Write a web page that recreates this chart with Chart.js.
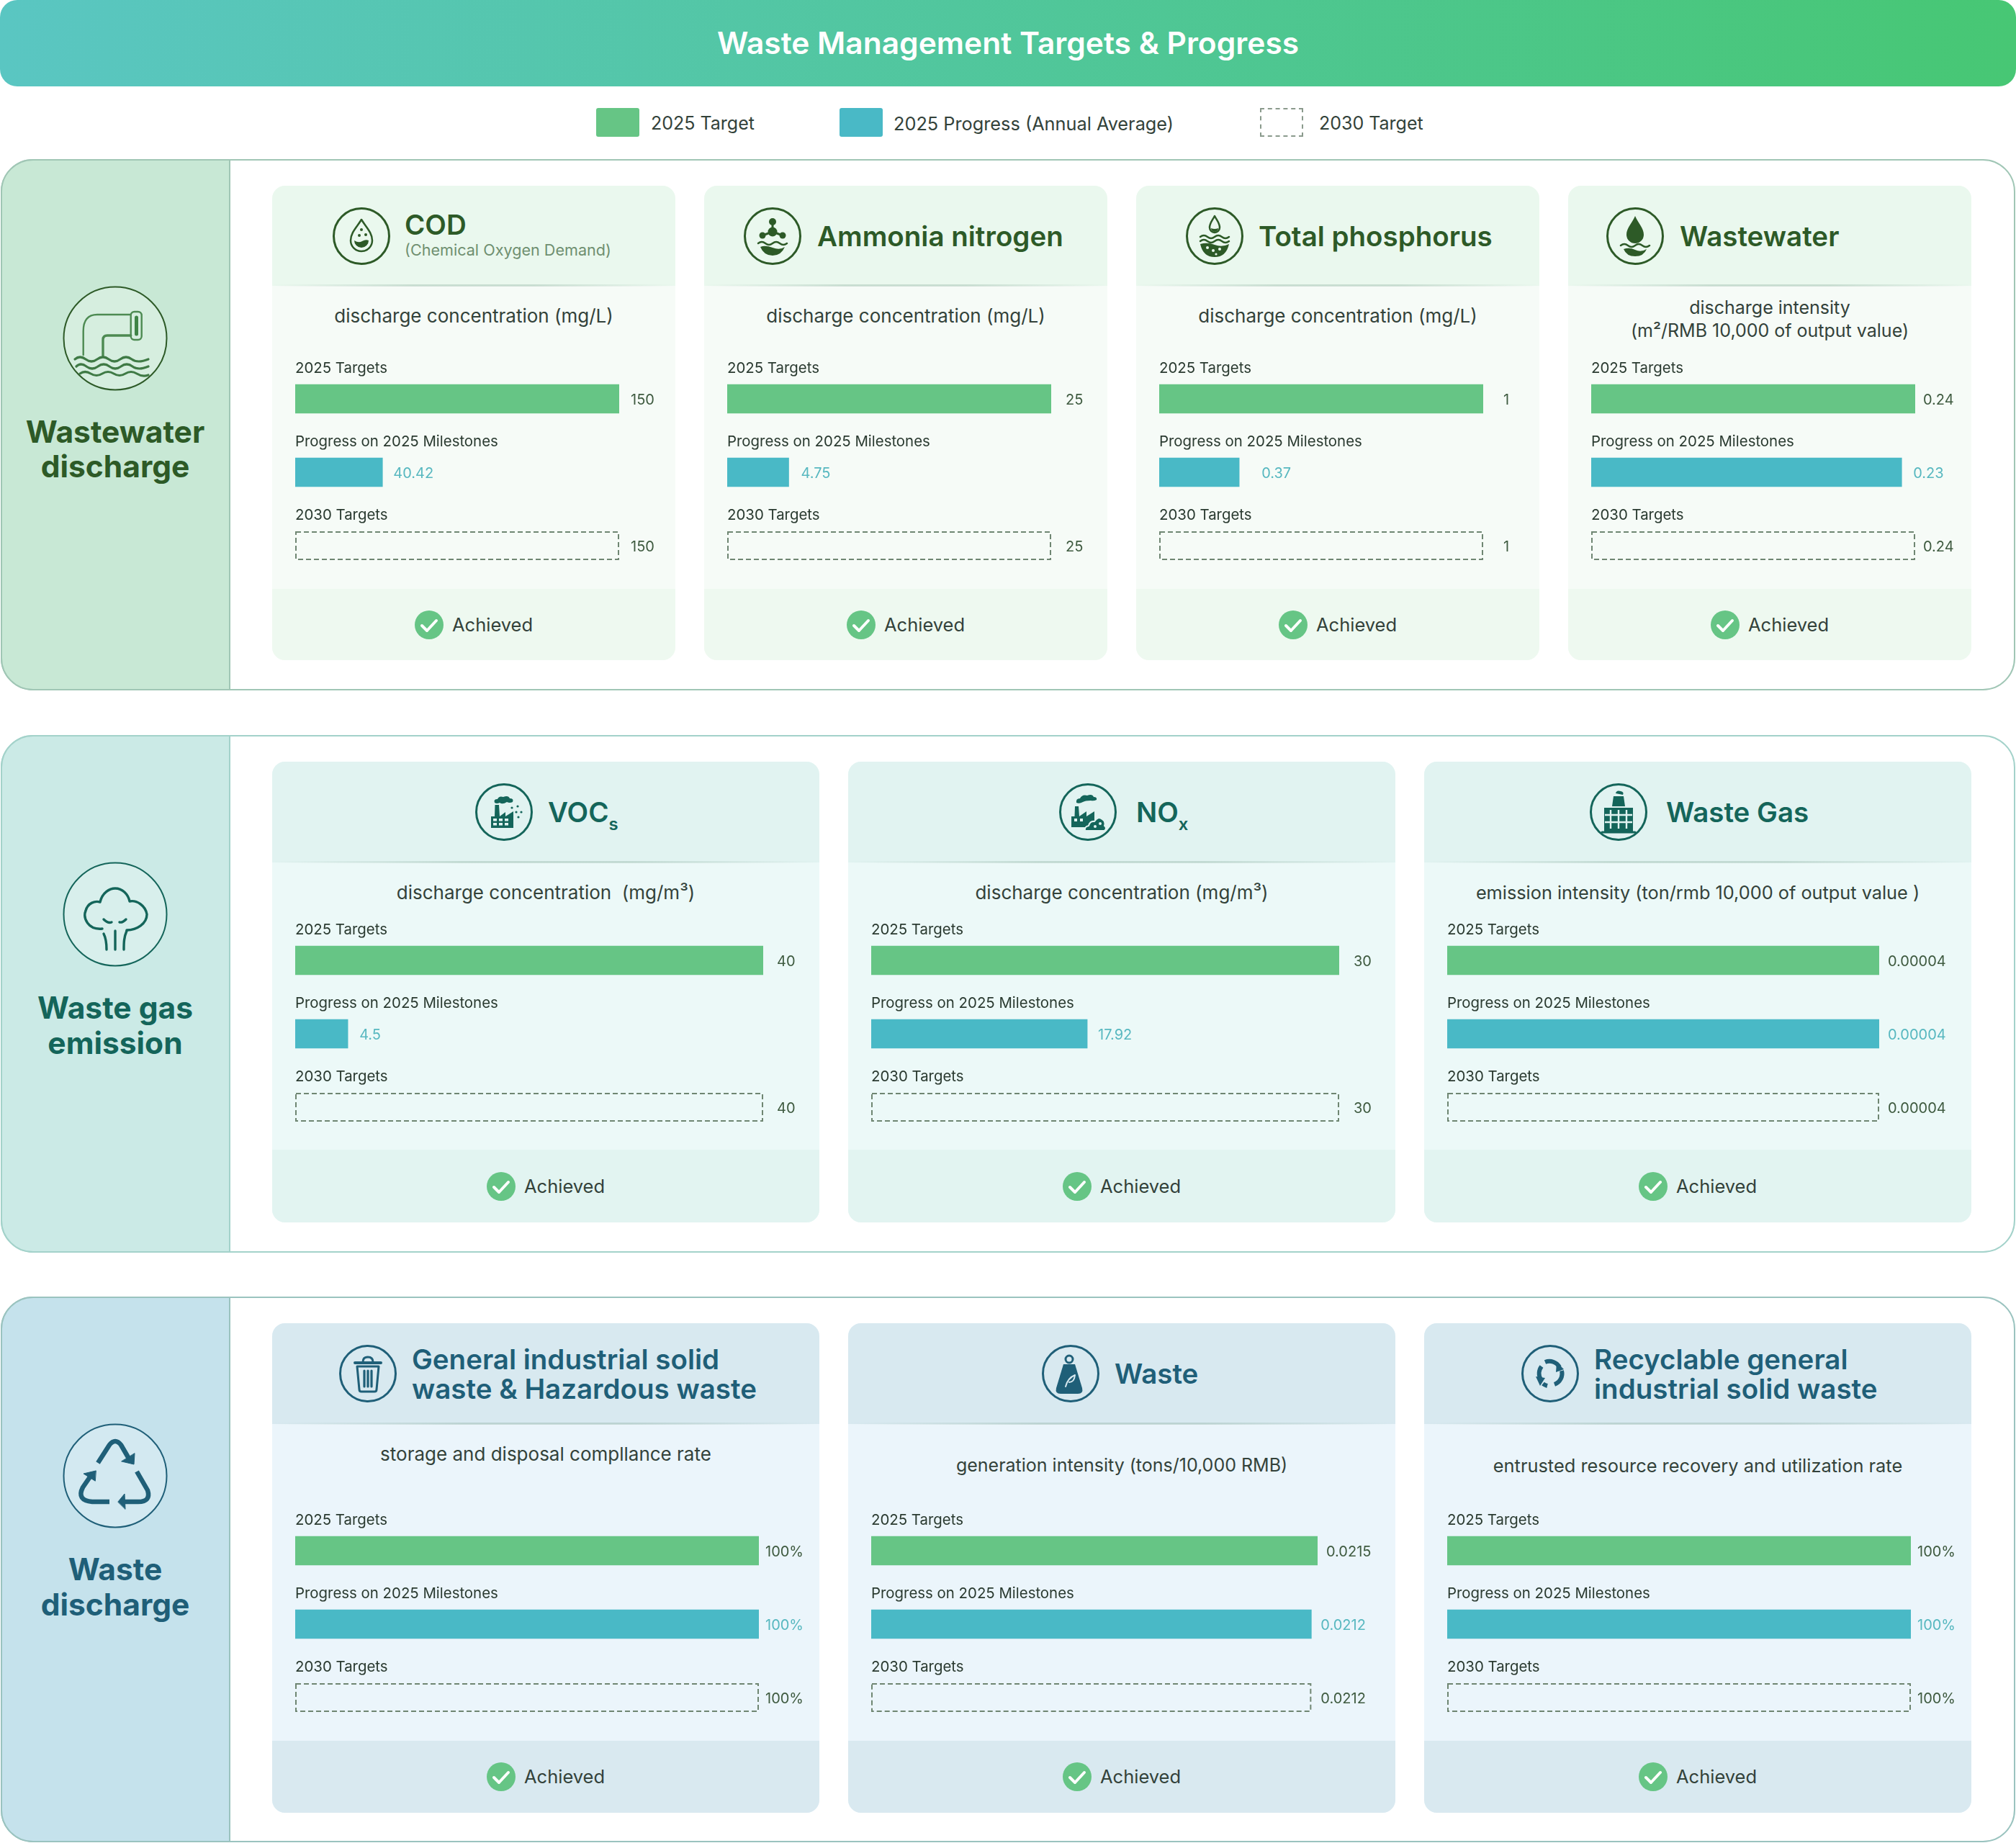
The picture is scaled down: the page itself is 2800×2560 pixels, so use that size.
<!DOCTYPE html>
<html>
<head>
<meta charset="utf-8">
<title>Waste Management Targets & Progress</title>
<script src="https://cdn.jsdelivr.net/npm/chart.js@4"></script>
<style>
  html, body { margin: 0; padding: 0; background: #fff; }
  #page { position: relative; width: 2800px; height: 2560px; overflow: hidden; font-family: Inter, sans-serif; }
  #page div, #page svg, #page canvas { position: absolute; box-sizing: border-box; }
  .t { white-space: nowrap; line-height: 1.1; }
  sub { font-size: 0.62em; line-height: 0; vertical-align: -0.48em; }
</style>
</head>
<body>
<div id="page"></div>
<script>
// chart data, one entry per metric card
const categories = ['2025 Targets', 'Progress on 2025 Milestones', '2030 Targets'];
const target2025 = [150, 25, 1, 0.24, 40, 30, 0.00004, 100, 0.0215, 100];
const progress2025 = [40.42, 4.75, 0.37, 0.23, 4.5, 17.92, 0.00004, 100, 0.0212, 100];
const target2030 = [150, 25, 1, 0.24, 40, 30, 0.00004, 100, 0.0212, 100];
// the picture draws two progress bars shorter than their printed value, so the drawn length is read separately
const progressDrawn = [40.42, 4.75, 0.247, 0.23, 4.5, 13.85, 0.00004, 100, 0.0212, 100];
const valueSuffix = ['', '', '', '', '', '', '', '%', '', '%'];

const metricUnits = [
  ['discharge concentration (mg/L)'],
  ['discharge concentration (mg/L)'],
  ['discharge concentration (mg/L)'],
  ['discharge intensity', '(m²/RMB 10,000 of output value)'],
  ['discharge concentration&nbsp; (mg/m³)'],
  ['discharge concentration (mg/m³)'],
  ['emission intensity (ton/rmb 10,000 of output value )'],
  ['storage and disposal compllance rate'],
  ['generation intensity (tons/10,000 RMB)'],
  ['entrusted resource recovery and utilization rate']
];
const metricTitles = [
  ['COD'],
  ['Ammonia nitrogen'],
  ['Total phosphorus'],
  ['Wastewater'],
  ['VOC<sub>s</sub>'],
  ['NO<sub>x</sub>'],
  ['Waste Gas'],
  ['General industrial solid', 'waste & Hazardous waste'],
  ['Waste'],
  ['Recyclable general', 'industrial solid waste']
];
const legendLabels = ['2025 Target', '2025 Progress (Annual Average)', '2030 Target'];
const sectionNames = [['Wastewater', 'discharge'], ['Waste gas', 'emission'], ['Waste', 'discharge']];

// layout
const sections = [
  { top: 221, bottom: 959, cardTop: 258, headBottom: 397, footTop: 818, cardBottom: 917, rows: 554, unitY: 439,
    iconY: 380, nameY: [600, 648], panel: '#c8e8d5', line: '#a0c6b5', ink: '#2d5a27', head: '#eaf8ee', body: '#f6fbf7', foot: '#eef9f0' },
  { top: 1021, bottom: 1740, cardTop: 1058, headBottom: 1198, footTop: 1597, cardBottom: 1698, rows: 1334, unitY: 1240,
    iconY: 1180, nameY: [1400, 1449], panel: '#cbeae6', line: '#a3d2ca', ink: '#14655a', head: '#e1f3f1', body: '#ecf9f8', foot: '#e2f4f1' },
  { top: 1801, bottom: 2559, cardTop: 1838, headBottom: 1978, footTop: 2418, cardBottom: 2518, rows: 2154, unitY: 2036,
    iconY: 1960, nameY: [2180, 2229], panel: '#c5e2ec', line: '#9ac3bf', ink: '#1f5f78', head: '#d8e9f0', body: '#ebf5fb', foot: '#d9e9f0' }
];
const cards = [
  { s: 0, x: 378,  w: 560, barX: 410,  barW: 450, iconX: 502,  titleX: 562,  unitSize: 26,   gaps: [16, 15, 16] },
  { s: 0, x: 978,  w: 560, barX: 1010, barW: 450, iconX: 1073, titleX: 1135, unitSize: 26,   gaps: [20, 17, 20] },
  { s: 0, x: 1578, w: 560, barX: 1610, barW: 450, iconX: 1687, titleX: 1748, unitSize: 26,   gaps: [28, 31, 28] },
  { s: 0, x: 2178, w: 560, barX: 2210, barW: 450, iconX: 2271, titleX: 2333, unitSize: 25,   gaps: [11, 16, 11] },
  { s: 1, x: 378,  w: 760, barX: 410,  barW: 650, iconX: 700,  titleX: 761,  unitSize: 26,   gaps: [19, 16, 19] },
  { s: 1, x: 1178, w: 760, barX: 1210, barW: 650, iconX: 1511, titleX: 1578, unitSize: 26,   gaps: [20, 15, 20] },
  { s: 1, x: 1978, w: 760, barX: 2010, barW: 600, iconX: 2248, titleX: 2314, unitSize: 25.3, gaps: [12, 12, 12] },
  { s: 2, x: 378,  w: 760, barX: 410,  barW: 644, iconX: 511,  titleX: 572,  unitSize: 26,   gaps: [9, 9, 9], unitY: 2020 },
  { s: 2, x: 1178, w: 760, barX: 1210, barW: 620, iconX: 1487, titleX: 1548, unitSize: 25,   gaps: [12, 13, 13] },
  { s: 2, x: 1978, w: 760, barX: 2010, barW: 644, iconX: 2153, titleX: 2214, unitSize: 25.4, gaps: [9, 9, 9] }
];

const GREEN = '#66c585';
const BLUE = '#49b9c6';

const page = document.getElementById('page');

function box(x, y, w, h, style, parent) {
  const d = document.createElement('div');
  d.style.cssText = `left:${x}px;top:${y}px;width:${w}px;height:${h}px;${style || ''}`;
  (parent || page).appendChild(d);
  return d;
}

function text(x, y, html, style, align) {
  const d = document.createElement('div');
  d.className = 't';
  const shift = align === 'center' ? 'translate(-50%,-50%)' : 'translateY(-50%)';
  d.style.cssText = `left:${x}px;top:${y}px;transform:${shift};${style}`;
  d.innerHTML = html;
  page.appendChild(d);
  return d;
}

function svg(x, y, w, h, body, color, viewBox) {
  const holder = document.createElement('div');
  holder.style.cssText = `left:${x}px;top:${y}px;width:${w}px;height:${h}px;color:${color}`;
  holder.innerHTML = `<svg style="left:0;top:0" width="${w}" height="${h}" viewBox="${viewBox || `0 0 ${w} ${h}`}" fill="none" stroke="currentColor" stroke-linecap="round" stroke-linejoin="round">${body}</svg>`;
  page.appendChild(holder);
}

// side panel icons, drawn on a 240x180 tile with the ring in the middle
const ring = '<circle cx="100" cy="90" r="71.5" fill="rgba(255,255,255,0.25)" stroke-width="2"/>';
const sideIcons = [
  ring + `<g stroke-width="2.4" stroke="#4d8a52"><path d="M55.7 113V80Q55.7 57 75 57H121.7"/><path d="M83 115V92Q83 86 89 86H121.7" stroke-width="3.4"/><rect x="121.7" y="53" width="15" height="39" rx="5"/></g>
   <path d="M129.5 61V84" stroke-width="5" stroke="#3f8446"/><g stroke-width="3.2" stroke="#3f7a45"><path d="M44 119Q51 113 59 119T75 119T91 119T107 119T123 119T146 119"/><path d="M46 129Q52 123 60 129T76 129T92 129T108 129T124 129T146 129"/><path d="M51 139Q58 134 66 139T82 139T98 139T114 139T130 139T146 141"/></g>`,
  ring + `<g stroke-width="3.4"><path d="M82 110C62 112 55 95 59 85C62 74 72 71 79 73C82 60 92 54 100 54C110 54 118 62 120 72C130 70 142 78 144 90C144 103 130 112 116 112"/><path d="M84 117C88 125 88 132 88 139M100 113V139M116 113C112 122 112 130 112 139"/><path d="M84 97Q90 103 95 101M106 101Q110 102 115 97"/></g>`,
  ring + `<g stroke-width="6.5" stroke-linecap="butt"><path d="M76 72L92 47Q100 37 108 47L119 66"/><path d="M130 84L145 110Q150 126 132 126L112 126"/><path d="M92 126L68 126Q46 124 55 106L66 90"/></g>
   <g fill="currentColor" stroke-width="1"><path d="M127 59L126 74L109 70Z"/><path d="M104 126L113 115L114 136Z"/><path d="M73 83L56 87L72 97Z"/></g>`
];

// metric icons, 80x80 ring
const headRing = '<circle cx="40" cy="40" r="38.5" stroke-width="3"/>';
const dropPath = 'M40 17C46 27 55 35 55 46A15 15 0 0 1 25 46C25 35 34 27 40 17Z';
const waves = y => `<path d="M20 ${y}q5-4 10 0t10 0t10 0t10 0" stroke-width="2.5"/>`;
const metricIcons = [
  headRing + `<path d="${dropPath}" stroke-width="2.5"/><path fill="currentColor" stroke="none" d="M30 46Q36 50 41 47T50 46A10 10 0 0 1 30 46Z"/><g fill="currentColor" stroke="none"><circle cx="40" cy="31" r="2"/><circle cx="46" cy="38" r="2"/><circle cx="37" cy="39" r="2"/></g>`,
  headRing + `<g fill="currentColor" stroke="none"><circle cx="40" cy="20" r="5"/><circle cx="40" cy="34" r="6.5"/><circle cx="26" cy="39" r="4.5"/><circle cx="54" cy="39" r="4.5"/></g><path d="M40 20V34L26 39M40 34L54 39" stroke-width="3"/>${waves(50)}<path fill="currentColor" stroke="none" d="M23 55Q30 52 40 56T57 55Q52 67 40 67T23 55Z"/>`,
  headRing + `<path d="M40 12C43 18 47 22 47 28A7 7 0 0 1 33 28C33 22 37 18 40 12Z" stroke-width="2.5"/><path fill="currentColor" stroke="none" d="M35 29Q40 31 45 29A5 5 0 0 1 35 29Z"/>${waves(41)}${waves(47)}<path fill="currentColor" stroke="none" d="M20 51Q30 48 40 52T60 51Q56 69 40 69T20 51Z"/><g fill="#eaf8ee" stroke="none"><circle cx="30" cy="56" r="2"/><circle cx="38" cy="60" r="2"/><circle cx="47" cy="58" r="2"/><circle cx="42" cy="65" r="1.6"/></g>`,
  headRing + `<path fill="currentColor" stroke="none" d="M40 12C45 23 52 29 52 38A12 12 0 0 1 28 38C28 29 35 23 40 12Z"/>${waves(53)}<path fill="currentColor" stroke="none" d="M24 58Q32 55 40 59T56 58Q52 68 40 68T24 58Z"/>`,
  // VOCs: factory, smoke and particles
  headRing + `<path fill="currentColor" stroke="none" d="M22 62V46H27L27.5 30H33L34 46L42 40V46L53 39V62Z"/><g fill="#e1f3f1" stroke="none"><rect x="25" y="49" width="5" height="3.5"/><rect x="33" y="49" width="5" height="3.5"/><rect x="41" y="49" width="5" height="3.5"/><rect x="25" y="55" width="5" height="3.5"/><rect x="33" y="55" width="5" height="3.5"/><rect x="41" y="55" width="5" height="3.5"/></g><path fill="currentColor" stroke="none" d="M27 27Q25 22 31 22Q33 17 39 19Q46 16 48 21Q54 21 52 26Q48 28 44 26Q38 30 34 27Q30 29 27 27Z"/><g fill="currentColor" stroke="none"><circle cx="51" cy="34" r="1.6"/><circle cx="59" cy="32" r="1.6"/><circle cx="57" cy="40" r="1.6"/><circle cx="64" cy="40" r="1.6"/><circle cx="60" cy="47" r="1.6"/></g>`,
  // NOx: factory, smoke and a cloud at its foot
  headRing + `<path fill="currentColor" stroke="none" d="M17 61V46H21.5L22 32H27L28 46L38 39V46L49 39V61Z"/><g fill="#e1f3f1" stroke="none"><rect x="21" y="49" width="4" height="4"/><rect x="29" y="49" width="4" height="4"/></g><path fill="currentColor" stroke="none" d="M24 27Q23 21 29 21Q32 15 39 17Q46 14 48 19Q53 19 52 23Q48 25 44 24Q36 24 33 26Q28 29 24 27Z"/><path fill="currentColor" stroke="#e1f3f1" stroke-width="2" d="M36 66Q35 60 41 59Q43 52 49 53Q54 45 60 50Q65 53 63 59Q67 62 63 66Z"/><g fill="#e1f3f1" stroke="none"><circle cx="50" cy="60" r="2"/><circle cx="57" cy="56" r="2"/></g>`,
  headRing + `<path fill="currentColor" stroke="none" d="M36 14q1-5 7-3q5 1 3 5zM33 18h14l2 14H31z"/><path fill="currentColor" stroke="none" d="M20 34h40v34H20z"/><g stroke="#e1f3f1" stroke-width="2.4" stroke-linecap="butt"><path d="M29 37v26M40 37v26M51 37v26M21 44h38M21 54h38"/></g><path d="M17 68H63" stroke-width="3"/>`,
  headRing + `<path d="M22 25H58" stroke-width="4"/><path d="M33 24Q33 17 40 17T47 24" stroke-width="3"/><path d="M25 30H55L52 62Q52 65 49 65H31Q28 65 28 62Z" stroke-width="3"/><path d="M35 36V58M40 36V58M45 36V58" stroke-width="3.2"/>`,
  headRing + `<circle cx="38" cy="20" r="5" stroke-width="3"/><path fill="currentColor" stroke="none" d="M30 27H46L56 60Q58 68 50 68H26Q18 68 20 60Z"/><path d="M33 58Q36 46 46 42Q45 52 38 52" stroke="#d8e9f0" stroke-width="2"/>`,
  headRing + `<g stroke-width="6" stroke-linecap="butt"><path d="M27 48A16 16 0 0 1 28 30"/><path d="M33 24A16 16 0 0 1 53 31"/><path d="M56 36A16 16 0 0 1 46 55"/><path d="M36 57A16 16 0 0 1 30 54"/></g><g fill="currentColor" stroke="none"><path d="M20 44L33 46L26 57Z"/><path d="M49 24L59 34L48 38Z"/></g>`
];

const checkIcon = `<circle cx="20" cy="20" r="20" fill="${GREEN}" stroke="none"/><path d="M10 21L17 28L30 14" stroke="#fff" stroke-width="4"/>`;

// row captions, value captions and the dashed outline, placed from the bar elements
const barCaptions = {
  id: 'barCaptions',
  afterDatasetsDraw(chart, args, opts) {
    const ctx = chart.ctx;
    const bars = chart.getDatasetMeta(0).data;
    ctx.save();
    bars.forEach((bar, i) => {
      const top = bar.y - bar.height / 2;
      if (i === 2) {
        ctx.strokeStyle = '#6f8672';
        ctx.lineWidth = 2;
        ctx.setLineDash([7, 4]);
        ctx.strokeRect(bar.base + 1, top + 1, bar.x - bar.base - 2, bar.height - 2);
        ctx.setLineDash([]);
      }
      ctx.textBaseline = 'middle';
      ctx.textAlign = 'left';
      ctx.font = '400 20.4px Inter';
      ctx.fillStyle = '#2a3a30';
      ctx.fillText(categories[i], bar.base, bar.y - 42);
      ctx.font = '400 20px Inter';
      ctx.fillStyle = i === 1 ? '#58b8c0' : '#3f5b40';
      ctx.fillText(opts.labels[i], bar.x + opts.gaps[i], bar.y + 1.5);
    });
    ctx.restore();
  }
};

function drawSection(sec, i) {
  box(1, sec.top, 2798, sec.bottom - sec.top, `border:2.5px solid ${sec.line};border-radius:45px;background:#fff`);
  box(1, sec.top, 319, sec.bottom - sec.top, `background:${sec.panel};border:2.5px solid ${sec.line};border-radius:45px 0 0 45px;border-right-width:2px`);
  svg(60, sec.iconY, 240, 180, sideIcons[i], sec.ink);
  sectionNames[i].forEach((line, k) => {
    text(160, sec.nameY[k], line, `font-size:42.5px;font-weight:700;color:${sec.ink}`, 'center');
  });
}

function drawCard(card, i) {
  const sec = sections[card.s];
  const mid = card.x + card.w / 2;
  box(card.x, sec.cardTop, card.w, sec.cardBottom - sec.cardTop, `background:${sec.body};border-radius:18px;overflow:hidden`);
  box(card.x, sec.cardTop, card.w, sec.headBottom - sec.cardTop, `background:${sec.head};border-radius:18px 18px 0 0`);
  box(card.x, sec.headBottom - 2, card.w, 3, `background:linear-gradient(90deg,transparent,rgba(120,160,140,0.3) 35%,rgba(120,160,140,0.3) 65%,transparent)`);
  box(card.x, sec.footTop, card.w, sec.cardBottom - sec.footTop, `background:${sec.foot};border-radius:0 0 18px 18px`);

  // header: ring icon and title
  const headMid = (sec.cardTop + sec.headBottom) / 2;
  svg(card.iconX - 40, headMid - 40, 80, 80, metricIcons[i], sec.ink);
  const titleStyle = `font-size:38.5px;font-weight:600;color:${sec.ink}`;
  if (i === 0) {
    text(card.titleX, 312, metricTitles[i][0], titleStyle);
    text(card.titleX, 348, '(Chemical Oxygen Demand)', 'font-size:21.6px;color:#6f8f70');
  } else if (metricTitles[i].length === 2) {
    text(card.titleX, headMid - 20, metricTitles[i][0], titleStyle);
    text(card.titleX, headMid + 21, metricTitles[i][1], titleStyle);
  } else {
    text(card.titleX, headMid, metricTitles[i][0], titleStyle);
  }

  // unit caption
  const unitStyle = `font-size:${card.unitSize}px;color:#33423a`;
  const unitY = card.unitY || sec.unitY;
  if (metricUnits[i].length === 2) {
    text(mid, unitY - 11, metricUnits[i][0], unitStyle, 'center');
    text(mid, unitY + 21, metricUnits[i][1], unitStyle, 'center');
  } else {
    text(mid, unitY, metricUnits[i][0], unitStyle, 'center');
  }

  // the bars
  const chartH = sec.footTop - sec.headBottom;
  const canvasBox = box(card.x, sec.headBottom, card.w, chartH);
  const canvas = document.createElement('canvas');
  canvas.width = card.w;
  canvas.height = chartH;
  canvas.style.cssText = `left:0;top:0;width:${card.w}px;height:${chartH}px`;
  canvasBox.appendChild(canvas);

  const suffix = valueSuffix[i];
  new Chart(canvas.getContext('2d'), {
    type: 'bar',
    data: {
      labels: categories,
      datasets: [{
        data: [target2025[i], progressDrawn[i], target2030[i]],
        backgroundColor: [GREEN, BLUE, 'transparent'],
        borderWidth: 0,
        barThickness: 40
      }]
    },
    options: {
      indexAxis: 'y',
      responsive: false,
      animation: false,
      devicePixelRatio: 1,
      layout: {
        padding: {
          left: card.barX - card.x,
          right: card.x + card.w - card.barX - card.barW,
          top: sec.rows - 51 - sec.headBottom,
          bottom: sec.footTop - (sec.rows + 204 + 51)
        }
      },
      scales: {
        x: { display: false, min: 0, max: target2025[i] },
        y: { display: false }
      },
      plugins: {
        legend: { display: false },
        tooltip: { enabled: false },
        barCaptions: {
          gaps: card.gaps,
          labels: [target2025[i] + suffix, progress2025[i] + suffix, target2030[i] + suffix]
        }
      }
    },
    plugins: [barCaptions]
  });

  // status footer
  const footMid = (sec.footTop + sec.cardBottom) / 2;
  svg(mid - 82, footMid - 20, 40, 40, checkIcon, '#fff');
  text(mid - 30, footMid, 'Achieved', 'font-size:25.5px;color:#33423a');
}

document.addEventListener('DOMContentLoaded', () => {
  box(0, 0, 2800, 120, 'background:linear-gradient(90deg,#5ac6c2,#47c774);border-radius:24px');
  text(1400, 60, 'Waste Management Targets &amp; Progress', 'font-size:42.5px;font-weight:600;color:#fff', 'center');

  box(828, 150, 60, 40, `background:${GREEN};border-radius:3px`);
  text(904, 172, legendLabels[0], 'font-size:25px;color:#33423a');
  box(1166, 150, 60, 40, `background:${BLUE};border-radius:3px`);
  text(1241, 172, legendLabels[1], 'font-size:25.3px;color:#33423a');
  box(1750, 150, 60, 40, 'border:2px dashed #8a9a8c');
  text(1832, 172, legendLabels[2], 'font-size:25px;color:#33423a');

  sections.forEach(drawSection);
  cards.forEach(drawCard);
});
</script>
</body>
</html>
